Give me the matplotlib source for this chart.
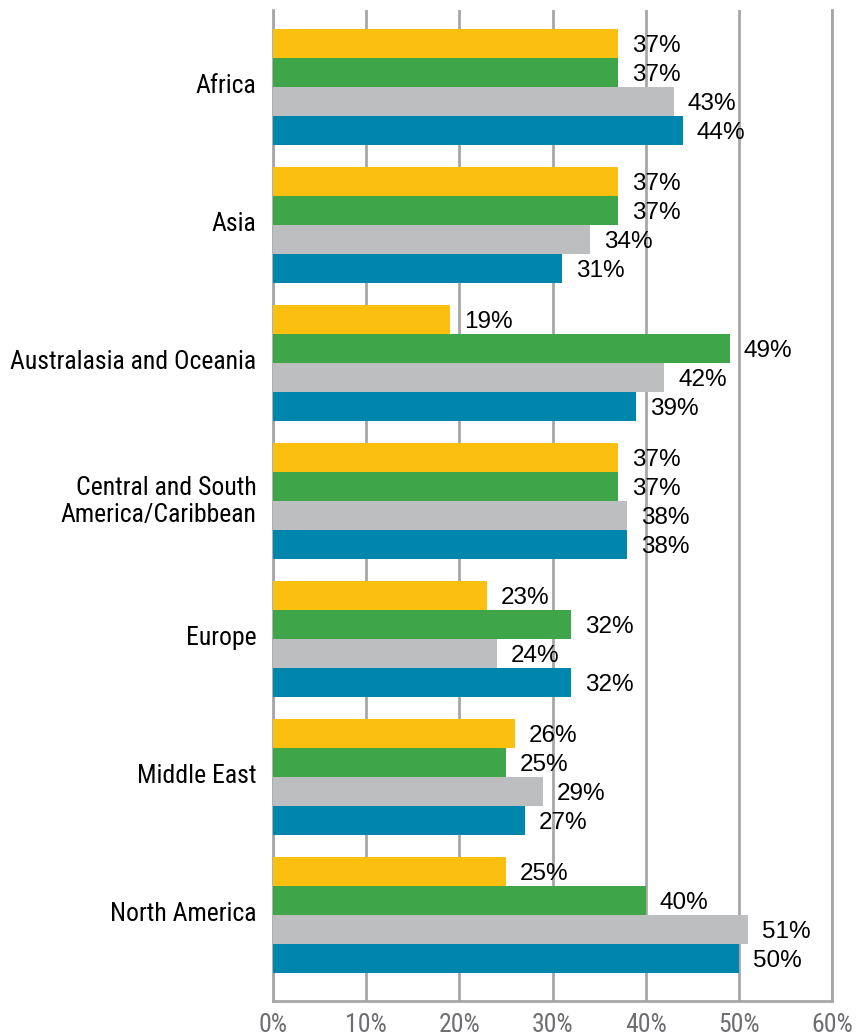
import matplotlib.pyplot as plt
from matplotlib import font_manager
from matplotlib.transforms import ScaledTranslation
import numpy as np

# pick a condensed face for axis labels if one is installed
names = {f.name for f in font_manager.fontManager.ttflist}
prefer = ['Liberation Sans Narrow', 'Roboto Condensed', 'Open Sans Condensed']
narrow = [n for n in prefer if n in names] + sorted(n for n in names if 'Narrow' in n or 'Condensed' in n)
cond_font = narrow[0] if narrow else 'Liberation Sans'
plt.rcParams['font.family'] = [cond_font, 'DejaVu Sans']

# data (percent)
regions = ['Africa', 'Asia', 'Australasia and Oceania', 'Central and South\nAmerica/Caribbean',
           'Europe', 'Middle East', 'North America']
yellow = [37, 37, 19, 37, 23, 26, 25]
green = [37, 37, 49, 37, 32, 25, 40]
gray = [43, 34, 42, 38, 24, 29, 51]
blue = [44, 31, 39, 38, 32, 27, 50]
ticks = [0, 10, 20, 30, 40, 50, 60]

series = [yellow, green, gray, blue]
colors = ['#FBBF10', '#3EA548', '#BDBEC0', '#0085AD']

fs = 18.5 if narrow else 15.5

fig = plt.figure(figsize=(8.57, 10.36), dpi=100)
ax = fig.add_axes([0.3186, 0.0338, 0.6522, 0.9565])

y = np.arange(len(regions))
h = 0.21
offsets = [-1.5 * h, -0.5 * h, 0.5 * h, 1.5 * h]

for vals, off, col in zip(series, offsets, colors):
    ax.barh(y + off, vals, height=h, color=col, zorder=3)
    for v, yy in zip(vals, y + off):
        ax.annotate(f'{v}%', (v, yy), xytext=(10, -1.5), textcoords='offset points',
                    ha='left', va='center', fontsize=17.5, color='black',
                    family=['Liberation Sans', 'DejaVu Sans'])

# Axes limits
ax.set_xlim(0, 60)
ax.set_ylim(6.623, -0.558)

grid_col = '#a7a7a9'
ax.set_xticks(ticks)
ax.set_xticklabels([f'{t}%' for t in ticks], fontsize=fs, color='#6d6e71')
ax.set_yticks(y)
ax.set_yticklabels(regions, fontsize=fs, color='black')
ax.tick_params(axis='both', length=0)
ax.tick_params(axis='x', pad=9)
ax.tick_params(axis='y', pad=12)

# nudge category labels up a little
shift = ScaledTranslation(0, 0.04, fig.dpi_scale_trans)
for lbl in ax.get_yticklabels():
    lbl.set_transform(lbl.get_transform() + shift)

# vertical gridlines
ax.grid(axis='x', color=grid_col, linewidth=2, zorder=0)
ax.grid(axis='y', visible=False)
ax.axvline(60, color=grid_col, linewidth=2, clip_on=False, zorder=0)

for s in ['top', 'right']:
    ax.spines[s].set_visible(False)
for s in ['left', 'bottom']:
    ax.spines[s].set_color(grid_col)
    ax.spines[s].set_linewidth(2)

plt.savefig('out.png', dpi=100)
